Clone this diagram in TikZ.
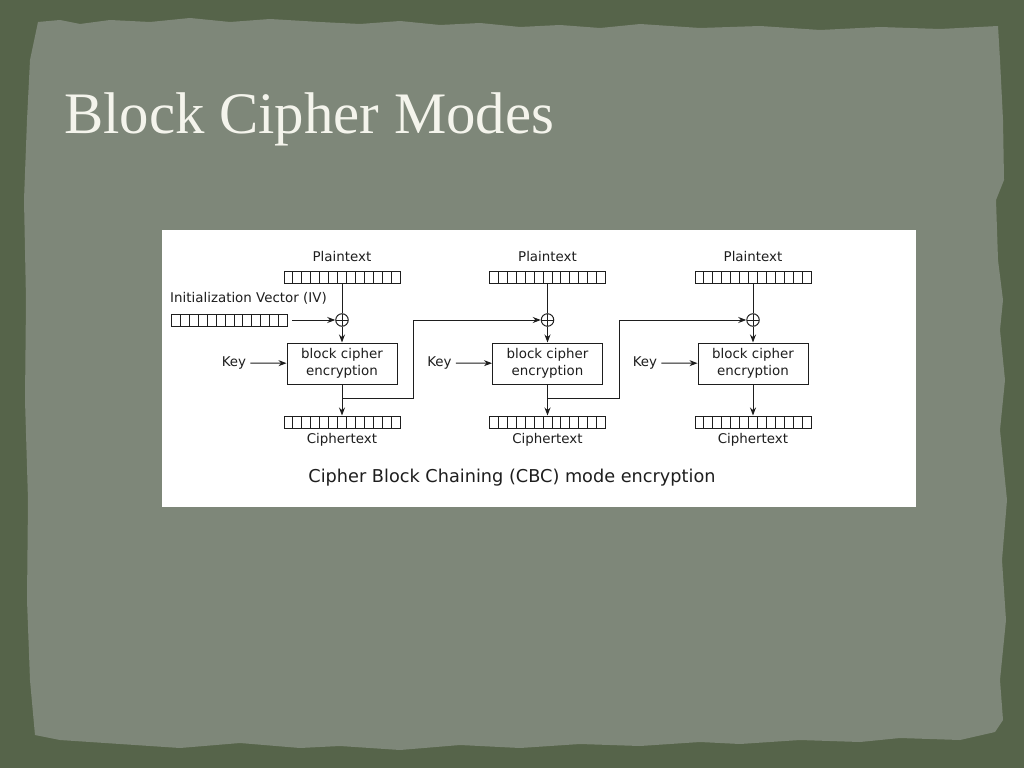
\documentclass[tikz,border=0pt]{standalone}
\usepackage{fontspec}
\setmainfont{Liberation Serif}
\newfontfamily\diagfont{DejaVu Sans}
\usetikzlibrary{positioning,calc,arrows.meta}

\definecolor{slideborder}{RGB}{86,100,74}
\definecolor{slidepaper}{RGB}{126,135,121}
\definecolor{titlewhite}{RGB}{244,244,236}
\definecolor{diagink}{RGB}{30,30,30}

\tikzset{
  lbl/.style={text=diagink, inner sep=3pt, font={\diagfont\fontsize{13.4}{17}\selectfont}},
  register/.style={draw=diagink, line width=1pt, minimum width=116pt, minimum height=12pt, inner sep=0pt,
    path picture={\foreach \k in {1,...,12}
      \draw[diagink, line width=0.9pt] ($(path picture bounding box.south west)!\k/13!(path picture bounding box.south east)$) -- ++(0,-12);}},
  xor/.style={draw=diagink, circle, line width=1pt, minimum size=12.5pt, inner sep=0pt,
    path picture={\draw[diagink, line width=1pt]
      (path picture bounding box.north) -- (path picture bounding box.south)
      (path picture bounding box.west) -- (path picture bounding box.east);}},
  cipherbox/.style={draw=diagink, line width=1pt, minimum width=110pt, minimum height=41pt,
    align=center, text=diagink, inner sep=0pt, font={\diagfont\fontsize{13.4}{17}\selectfont}},
  arr/.style={draw=diagink, line width=1pt, -{Stealth[length=8pt,width=6pt]}},
  wire/.style={draw=diagink, line width=1pt}
}

\begin{document}
\begin{tikzpicture}[x=1pt,y=-1pt]
\useasboundingbox (0,0) rectangle (1024,768);

% slide background
\fill[slideborder] (0,0) rectangle (1024,768);
\fill[slidepaper] (38,22) -- (60,20) -- (80,24) -- (110,20) -- (150,22) -- (190,18) -- (230,22)
  -- (270,19) -- (320,22) -- (360,24) -- (400,21) -- (440,25) -- (480,23) -- (520,27) -- (560,25)
  -- (600,28) -- (640,24) -- (700,28) -- (760,26) -- (820,30) -- (880,27) -- (940,29) -- (998,26)
  -- (1000,60) -- (1003,120) -- (1004,180) -- (996,200) -- (998,260) -- (1003,300) -- (1000,330)
  -- (1005,380) -- (1000,430) -- (1007,500) -- (1002,560) -- (1006,620) -- (1000,680) -- (1003,720)
  -- (995,732) -- (960,740) -- (900,738) -- (860,742) -- (800,740) -- (740,744) -- (700,742)
  -- (640,746) -- (580,744) -- (520,748) -- (460,745) -- (400,750) -- (340,746) -- (300,748)
  -- (240,743) -- (180,748) -- (120,744) -- (60,740) -- (35,735) -- (30,680) -- (27,600)
  -- (28,500) -- (25,400) -- (26,300) -- (24,200) -- (27,120) -- (30,60) -- cycle;

\node [anchor=base west, inner sep=0pt, text=titlewhite, font={\fontsize{58.8}{60}\selectfont}] (title)
 at (64,133) {Block Cipher Modes};

% the CBC figure
\fill[white] (162,230) rectangle (916,507);

\node [lbl, anchor=west] (ivlabel) at (167,298) {Initialization Vector (IV)};
\node [register] (iv) at (229.5,320) {};

% first block
\node [lbl] (plabel1) at (342,257) {Plaintext};
\node [register] (p1) at (342,277) {};
\node [xor] (x1) at (342,320) {};
\node [cipherbox] (b1) at (342,363.5) {block cipher\\encryption};
\node [lbl] (key1) at (234,363) {Key};
\node [register] (c1) at (342,422) {};
\node [lbl] (clabel1) at (342,440) {Ciphertext};
\coordinate (j1) at (342,398);

% second block
\node [lbl] (plabel2) at (547.5,257) {Plaintext};
\node [register] (p2) at (547.5,277) {};
\node [xor] (x2) at (547.5,320) {};
\node [cipherbox] (b2) at (547.5,363.5) {block cipher\\encryption};
\node [lbl] (key2) at (439.5,363) {Key};
\node [register] (c2) at (547.5,422) {};
\node [lbl] (clabel2) at (547.5,440) {Ciphertext};
\coordinate (j2) at (547.5,398);

% third block
\node [lbl] (plabel3) at (753,257) {Plaintext};
\node [register] (p3) at (753,277) {};
\node [xor] (x3) at (753,320) {};
\node [cipherbox] (b3) at (753,363.5) {block cipher\\encryption};
\node [lbl] (key3) at (645,363) {Key};
\node [register] (c3) at (753,422) {};
\node [lbl] (clabel3) at (753,440) {Ciphertext};

\draw [arr] ([xshift=4pt]iv.east) -- (x1);

\draw [wire] (p1) -- (x1);
\draw [arr] (x1) -- (b1);
\draw [arr] ([xshift=1pt]key1.east) -- (b1);
\draw [arr] (b1) -- (c1);
\draw [arr] (j1) -- ++(71,0) |- (x2);

\draw [wire] (p2) -- (x2);
\draw [arr] (x2) -- (b2);
\draw [arr] ([xshift=1pt]key2.east) -- (b2);
\draw [arr] (b2) -- (c2);
\draw [arr] (j2) -- ++(71.5,0) |- (x3);

\draw [wire] (p3) -- (x3);
\draw [arr] (x3) -- (b3);
\draw [arr] ([xshift=1pt]key3.east) -- (b3);
\draw [arr] (b3) -- (c3);

\node [text=diagink, font={\diagfont\fontsize{17.7}{20}\selectfont}] (caption)
 at (512,478) {Cipher Block Chaining (CBC) mode encryption};

\end{tikzpicture}
\end{document}
